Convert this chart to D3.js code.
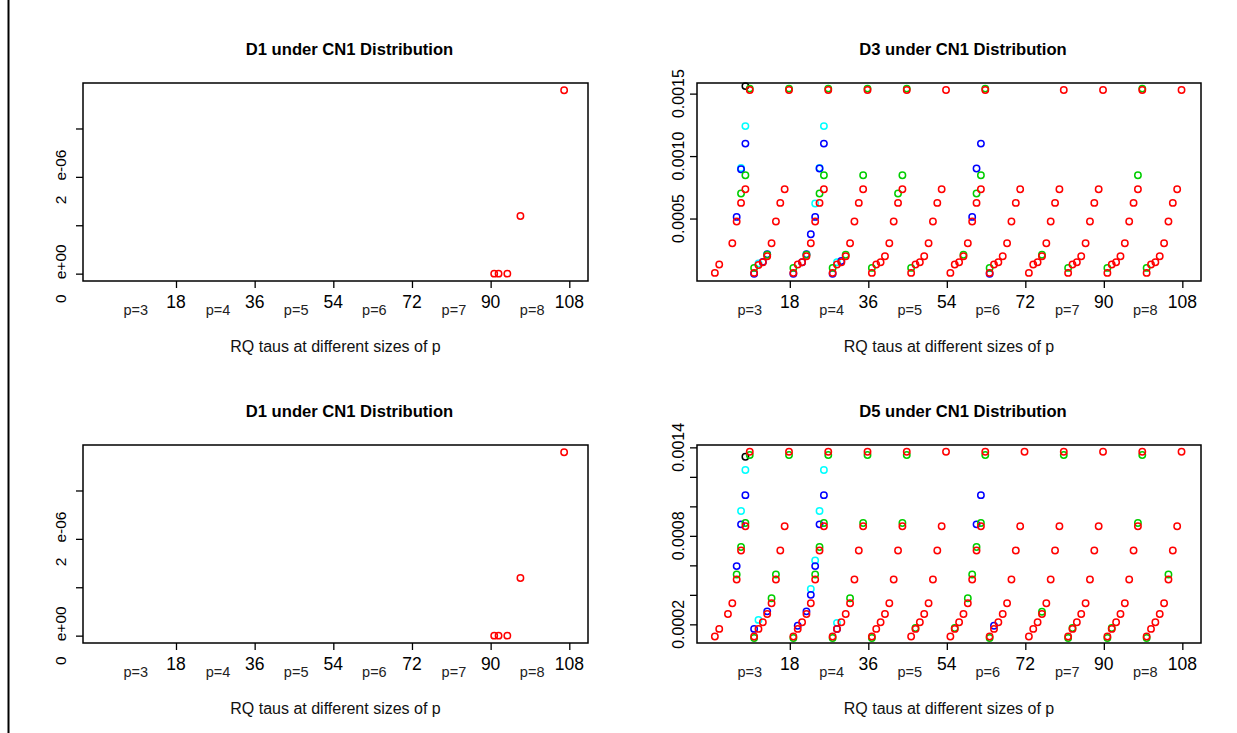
<!doctype html>
<html>
<head>
<meta charset="utf-8">
<script src="https://d3js.org/d3.v7.min.js"></script>
<style>
  body { margin: 0; background: #fff; }
  text { font-family: "Liberation Sans", Arial, sans-serif; }
</style>
</head>
<body>
<div id="chart"></div>
<script>
const width = 1237, height = 733;

// shared x axis: observation index 1..108, six blocks of 18 (p=3..8)
const xTicks = [18, 36, 54, 72, 90, 108];
const pLabels = ["p=3", "p=4", "p=5", "p=6", "p=7", "p=8"];
const pAt = [8.8, 27.6, 45.5, 63.4, 81.6, 99.5];
const xTitle = "RQ taus at different sizes of  p";

// D1 panels (same values top and bottom)
const d1X = [91, 92, 94, 97, 107];
const d1Red = [0, 0, 0, 1.19e-6, 3.79e-6];
const d1YTicks = [0, 1e-6, 2e-6, 3e-6];
const d1YLabels = [["0", "e+00", 0], ["2", "e-06", 2e-6]];

// D3 panel, red series by index 1..108 (null = no point)
const d3Red = [
  0.000065, 0.000132, null, null, 0.000302, 0.000476, 0.000625, 0.000734, 0.001529,
  0.000065, 0.000128, 0.000150, 0.000198, 0.000302, 0.000476, 0.000625, 0.000734, 0.001529,
  0.000065, 0.000132, 0.000150, 0.000198, 0.000302, 0.000476, 0.000625, 0.000734, 0.001529,
  0.000065, 0.000132, 0.000150, 0.000198, 0.000302, 0.000476, 0.000625, 0.000734, 0.001529,
  0.000065, 0.000132, 0.000150, 0.000198, 0.000302, 0.000476, 0.000625, 0.000734, 0.001529,
  0.000065, 0.000132, 0.000150, 0.000198, 0.000302, 0.000476, 0.000625, 0.000734, 0.001529,
  0.000065, 0.000132, 0.000150, 0.000198, 0.000302, 0.000476, 0.000625, 0.000734, 0.001529,
  0.000065, 0.000132, 0.000150, 0.000198, 0.000302, 0.000476, 0.000625, 0.000734, null,
  0.000065, 0.000132, 0.000150, 0.000198, 0.000302, 0.000476, 0.000625, 0.000734, 0.001529,
  0.000065, 0.000132, 0.000150, 0.000198, 0.000302, 0.000476, 0.000625, 0.000734, 0.001529,
  0.000065, 0.000132, 0.000150, 0.000198, 0.000302, 0.000476, 0.000625, 0.000734, 0.001529,
  0.000065, 0.000132, 0.000150, 0.000198, 0.000302, 0.000476, 0.000625, 0.000734, 0.001529
];
// other D3 series, only where they show from under the red ones: [index, value]
const d3Black = [[8, 0.00156]];
const d3Cyan = [[7, 0.000905], [8, 0.00124], [11, 0.00014], [24, 0.00062], [25, 0.000905], [26, 0.00124], [29, 0.00015]];
const d3Blue = [[6, 0.000513], [7, 0.000894], [8, 0.0011], [10, 0.000058], [12, 0.000153], [13, 0.000214],
  [19, 0.000058], [21, 0.00015], [22, 0.000214], [23, 0.000374], [24, 0.000513], [25, 0.0009], [26, 0.0011],
  [28, 0.000058], [30, 0.00016], [60, 0.000513], [61, 0.0009], [62, 0.0011], [64, 0.000058]];
const d3Green = [[7, 0.0007], [8, 0.000846], [9, 0.00154], [10, 0.000105], [13, 0.00021], [18, 0.00154],
  [19, 0.000105], [22, 0.00021], [25, 0.0007], [26, 0.000846], [27, 0.00154], [28, 0.000105], [31, 0.00021],
  [35, 0.000846], [36, 0.00154], [37, 0.000105], [43, 0.0007], [44, 0.000846], [45, 0.00154], [46, 0.000105],
  [58, 0.00021], [61, 0.0007], [62, 0.000846], [63, 0.00154], [64, 0.000105], [76, 0.00021], [82, 0.000105],
  [91, 0.000105], [98, 0.000846], [99, 0.00154], [100, 0.000105]];
const d3YTicks = [0.0005, 0.0010, 0.0015];

// D5 panel
const d5Red = [
  0.000118, 0.000169, null, 0.000270, 0.000343, 0.000504, 0.000701, 0.000865, 0.00137,
  0.000118, 0.000169, 0.000214, 0.000270, 0.000343, 0.000504, 0.000701, 0.000865, 0.00137,
  0.000118, 0.000169, 0.000214, 0.000270, 0.000343, 0.000504, 0.000701, 0.000865, 0.00137,
  0.000118, 0.000169, 0.000214, 0.000270, 0.000343, 0.000504, 0.000701, 0.000865, 0.00137,
  0.000118, 0.000169, 0.000214, 0.000270, 0.000343, 0.000504, 0.000701, 0.000865, 0.00137,
  0.000118, 0.000169, 0.000214, 0.000270, 0.000343, 0.000504, 0.000701, 0.000865, 0.00137,
  0.000118, 0.000169, 0.000214, 0.000270, 0.000343, 0.000504, 0.000701, 0.000865, 0.00137,
  0.000118, 0.000169, 0.000214, 0.000270, 0.000343, 0.000504, 0.000701, 0.000865, 0.00137,
  0.000118, 0.000169, 0.000214, 0.000270, 0.000343, 0.000504, 0.000701, 0.000865, 0.00137,
  0.000118, 0.000169, 0.000214, 0.000270, 0.000343, 0.000504, 0.000701, 0.000865, 0.00137,
  0.000118, 0.000169, 0.000214, 0.000270, 0.000343, 0.000504, 0.000701, 0.000865, 0.00137,
  0.000118, 0.000169, 0.000214, 0.000270, 0.000343, 0.000504, 0.000701, 0.000865, 0.00137
];
const d5Black = [[8, 0.001336]];
const d5Cyan = [[7, 0.000969], [8, 0.001246], [11, 0.00023], [23, 0.00044], [24, 0.000633], [25, 0.000969],
  [26, 0.001246], [29, 0.00021]];
const d5Blue = [[6, 0.000595], [7, 0.000878], [8, 0.001076], [10, 0.000169], [13, 0.000288], [20, 0.00019],
  [22, 0.000288], [23, 0.0004], [24, 0.000595], [25, 0.000878], [26, 0.001076], [29, 0.000169],
  [61, 0.000878], [62, 0.001076], [65, 0.00019]];
const d5Green = [[6, 0.000538], [7, 0.000724], [8, 0.000887], [9, 0.001348], [10, 0.000107], [14, 0.000377],
  [15, 0.000538], [18, 0.001348], [19, 0.000107], [24, 0.000538], [25, 0.000724], [26, 0.000887],
  [27, 0.001348], [28, 0.000107], [32, 0.000377], [35, 0.000887], [36, 0.001348], [37, 0.000107],
  [44, 0.000887], [45, 0.001348], [47, 0.000175], [56, 0.000175], [59, 0.000377], [60, 0.000538],
  [61, 0.000724], [62, 0.000887], [63, 0.001348], [64, 0.000107], [76, 0.000285], [81, 0.001348],
  [82, 0.000107], [83, 0.000175], [91, 0.000107], [92, 0.000175], [98, 0.000887], [99, 0.001348],
  [100, 0.000107], [105, 0.000538]];
const d5YTicks = [0.0002, 0.0004, 0.0006, 0.0008, 0.0010, 0.0012, 0.0014];
const d5YLabels = [0.0002, 0.0008, 0.0014];

const colors = {black: "#000000", cyan: "#00ffff", blue: "#0000ff", green: "#00cd00", red: "#ff0000"};

function indexed(values) {
  return values.map(function (v, i) { return [i + 1, v]; }).filter(function (d) { return d[1] !== null; });
}

const panels = [
  {title: "D1 under CN1 Distribution", box: [83, 83, 588, 281], yDomain: [-0.152e-6, 3.94e-6],
    yTicks: d1YTicks, split: d1YLabels,
    series: [["red", d1X.map(function (x, i) { return [x, d1Red[i]]; })]]},
  {title: "D3 under CN1 Distribution", box: [697, 83, 1201, 281], yDomain: [0, 0.001585],
    yTicks: d3YTicks, labels: d3YTicks, fmt: d3.format(".4f"),
    series: [["black", d3Black], ["cyan", d3Cyan], ["blue", d3Blue], ["green", d3Green], ["red", indexed(d3Red)]]},
  {title: "D1 under CN1 Distribution", box: [83, 445, 588, 643], yDomain: [-0.152e-6, 3.94e-6],
    yTicks: d1YTicks, split: d1YLabels,
    series: [["red", d1X.map(function (x, i) { return [x, d1Red[i]]; })]]},
  {title: "D5 under CN1 Distribution", box: [697, 445, 1201, 643], yDomain: [0.0000735, 0.001416],
    yTicks: d5YTicks, labels: d5YLabels, fmt: d3.format(".4f"),
    series: [["black", d5Black], ["cyan", d5Cyan], ["blue", d5Blue], ["green", d5Green], ["red", indexed(d5Red)]]}
];

const svg = d3.select("#chart").append("svg")
  .attr("width", width)
  .attr("height", height);

svg.append("rect").attr("width", width).attr("height", height).attr("fill", "#fff");
svg.append("line")
  .attr("x1", 8.5).attr("x2", 8.5).attr("y1", 0).attr("y2", height)
  .attr("stroke", "#000").attr("stroke-width", 2);

panels.forEach(function (p) {
  const [x0, y0, x1, y1] = p.box;
  const x = d3.scaleLinear().domain([-3.28, 112.28]).range([x0, x1]);
  const y = d3.scaleLinear().domain(p.yDomain).range([y1, y0]);
  const g = svg.append("g");
  const cx = (x0 + x1) / 2;

  g.append("text")
    .attr("x", cx + 14).attr("y", y0 - 28)
    .attr("text-anchor", "middle")
    .attr("font-size", 16.6).attr("font-weight", "bold")
    .text(p.title);

  // x axis ticks
  g.append("g")
    .attr("transform", "translate(0," + y1 + ")")
    .call(d3.axisBottom(x).tickValues(xTicks).tickSize(7).tickFormat(""))
    .call(function (a) { a.select(".domain").remove(); a.selectAll("line").attr("stroke", "#000").attr("stroke-width", 1.3); });

  g.selectAll("text.xnum")
    .data(xTicks)
    .enter().append("text")
    .attr("class", "xnum")
    .attr("x", x).attr("y", y1 + 27)
    .attr("text-anchor", "middle")
    .attr("font-size", 17.5)
    .text(String);

  g.selectAll("text.plab")
    .data(pLabels)
    .enter().append("text")
    .attr("class", "plab")
    .attr("x", function (d, i) { return x(pAt[i]); })
    .attr("y", y1 + 34)
    .attr("text-anchor", "middle")
    .attr("font-size", 14.5).attr("fill", "#222")
    .text(String);

  g.append("text")
    .attr("x", cx).attr("y", y1 + 71)
    .attr("text-anchor", "middle")
    .attr("font-size", 16).attr("fill", "#111")
    .text(xTitle);

  // y axis ticks
  g.append("g")
    .attr("transform", "translate(" + x0 + ",0)")
    .call(d3.axisLeft(y).tickValues(p.yTicks).tickSize(7).tickFormat(""))
    .call(function (a) { a.select(".domain").remove(); a.selectAll("line").attr("stroke", "#000").attr("stroke-width", 1.3); });

  if (p.labels) {
    g.selectAll("text.ylab")
      .data(p.labels)
      .enter().append("text")
      .attr("class", "ylab")
      .attr("transform", function (d) { return "translate(" + (x0 - 13) + "," + y(d) + ") rotate(-90)"; })
      .attr("text-anchor", "middle")
      .attr("font-size", 16)
      .text(p.fmt);
  }
  if (p.split) {
    g.selectAll("text.ylab")
      .data(p.split)
      .enter().append("text")
      .attr("class", "ylab")
      .attr("transform", function (d) { return "translate(" + (x0 - 17) + "," + y(d[2]) + ") rotate(-90)"; })
      .attr("text-anchor", "middle")
      .attr("font-size", 15.5)
      .each(function (d) {
        const t = d3.select(this);
        t.append("tspan").text(d[0]);
        t.append("tspan").attr("dx", 15).text(d[1]);
      });
  }

  // points
  p.series.forEach(function (s) {
    g.selectAll(null)
      .data(s[1])
      .enter().append("circle")
      .attr("cx", function (d) { return x(d[0]) - 0.8; })
      .attr("cy", function (d) { return y(d[1]); })
      .attr("r", 3.2)
      .attr("fill", "none")
      .attr("stroke", colors[s[0]])
      .attr("stroke-width", 1.5);
  });

  g.append("rect")
    .attr("x", x0).attr("y", y0)
    .attr("width", x1 - x0).attr("height", y1 - y0)
    .attr("fill", "none").attr("stroke", "#000").attr("stroke-width", 1.5);
});
</script>
</body>
</html>
